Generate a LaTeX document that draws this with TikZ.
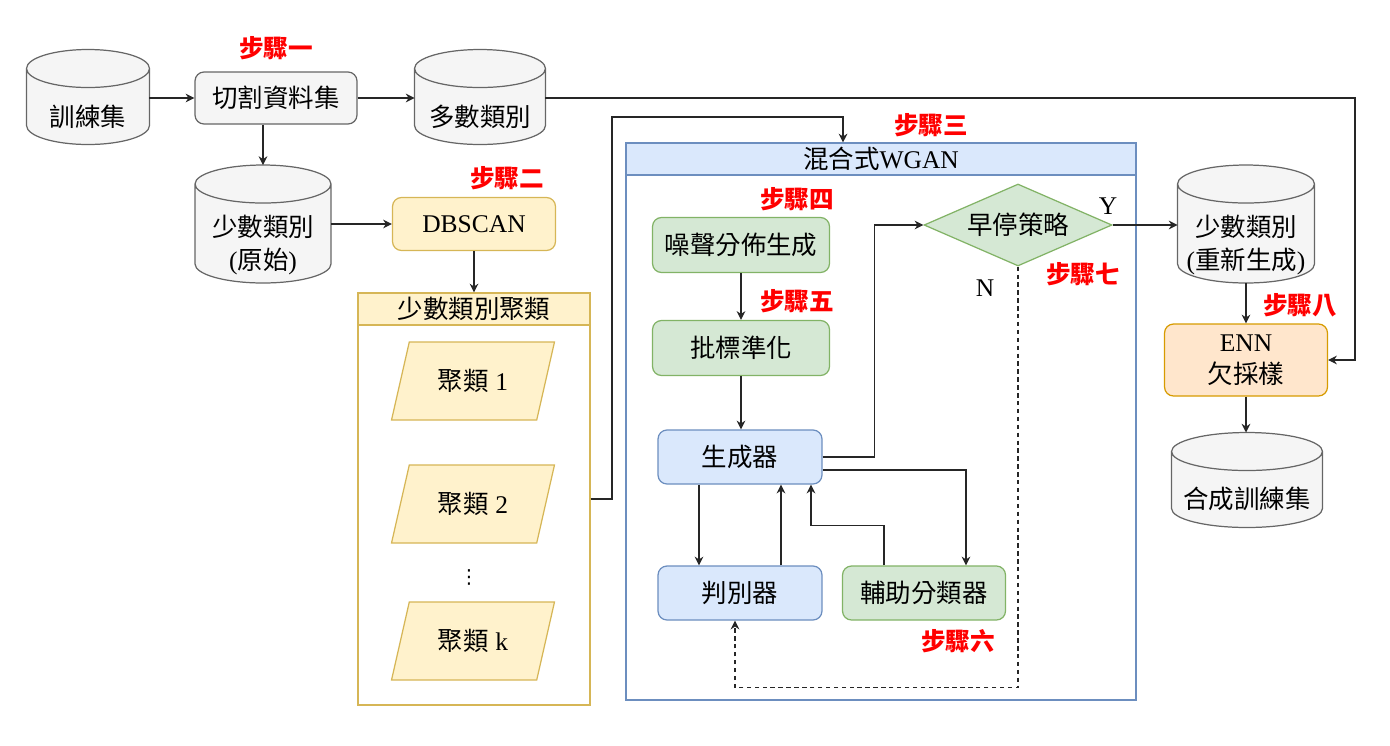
\documentclass[tikz,border=0pt]{standalone}
\usepackage{fontspec}
\setmainfont{Liberation Serif}
\newfontfamily\cjk{Noto Sans CJK TC}
\newfontfamily\dejavu{DejaVu Sans}
\usetikzlibrary{arrows.meta,shapes.geometric,positioning,calc}
\newcommand{\zh}[1]{{\cjk #1}}
\newlength{\capr}
\setlength{\capr}{0.38cm}
% cylinder outline around a named node
\newcommand{\drawcyl}[1]{%
  \draw[draw=graydraw, fill=grayfill, line width=0.7pt]
    let \p1=(#1.north west), \p2=(#1.south east), \n1={(\x2-\x1)/2} in
    (\x1,\y1-\capr) -- (\x1,\y2+\capr)
    arc[start angle=180, end angle=360, x radius=\n1, y radius=\capr]
    -- (\x2,\y1-\capr)
    arc[start angle=0, end angle=180, x radius=\n1, y radius=\capr] -- cycle
    (\x1,\y1-\capr) arc[start angle=180, end angle=360, x radius=\n1, y radius=\capr];}
\definecolor{grayfill}{HTML}{F5F5F5}
\definecolor{graydraw}{HTML}{666666}
\definecolor{yelfill}{HTML}{FFF2CC}
\definecolor{yeldraw}{HTML}{D6B656}
\definecolor{bluefill}{HTML}{DAE8FC}
\definecolor{bluedraw}{HTML}{6C8EBF}
\definecolor{grnfill}{HTML}{D5E8D4}
\definecolor{grndraw}{HTML}{82B366}
\definecolor{orgfill}{HTML}{FFE6CC}
\definecolor{orgdraw}{HTML}{D79B00}
\tikzset{
  box/.style={draw=#1draw, fill=#1fill, rounded corners=0.18cm, line width=0.7pt,
    minimum width=3.26cm, minimum height=1.08cm, align=center},
  store/.style={rectangle, inner sep=0pt, outer sep=0pt},
  storetext/.style={align=center, font=\fontsize{14.5pt}{19pt}\selectfont},
  panel/.style={draw=#1draw, fill=white, line width=0.7pt},
  panelhead/.style={draw=#1draw, fill=#1fill, line width=0.7pt, minimum height=0.64cm, inner sep=0pt},
  clusbox/.style={trapezium, trapezium left angle=72, trapezium right angle=108,
    trapezium stretches=true, draw=yeldraw, fill=yelfill, line width=0.7pt,
    minimum width=3.26cm, minimum height=1.56cm},
  decide/.style={diamond, aspect=2.3, draw=grndraw, fill=grnfill, line width=0.7pt,
    minimum width=3.76cm, minimum height=1.64cm, inner sep=0pt},
  steplabel/.style={text=red, font=\fontsize{14pt}{17pt}\selectfont\cjk\bfseries},
  arr/.style={-{Stealth[length=5pt,width=5pt]}, line width=0.7pt, draw=black!85}
}
\begin{document}
\begin{tikzpicture}[x=0.02cm, y=-0.02cm, font=\fontsize{14.5pt}{18.5pt}\selectfont]
\useasboundingbox (0,0) rectangle (1390,745);

% step 1: split the data
\node[store, minimum width=2.46cm, minimum height=1.9cm] (train) at (88,97) {};
\drawcyl{train}
\node[storetext] (train-t) at ([yshift=-0.4cm]train.center) {\zh{訓練集}};
\node[box=gray, minimum width=3.24cm, minimum height=1.04cm] (split) at (276,98) {\zh{切割資料集}};
\node[store, minimum width=2.62cm, minimum height=1.9cm] (major) at (480,97) {};
\drawcyl{major}
\node[storetext] (major-t) at ([yshift=-0.4cm]major.center) {\zh{多數類別}};
\node[store, minimum width=2.72cm, minimum height=2.36cm] (minorig) at (263,224) {};
\drawcyl{minorig}
\node[storetext] (minorig-t) at ([yshift=-0.42cm]minorig.center) {\zh{少數類別}\\(\zh{原始})};
\node[steplabel] (s1) at (276,48) {步驟一};

% step 2: clustering
\node[box=yel, minimum height=1.06cm] (dbscan) at (474,224) {DBSCAN};
\node[steplabel] (s2) at (507,178) {步驟二};
\node[panel=yel, minimum width=4.64cm, minimum height=8.24cm] (clus) at (474,499) {};
\node[panelhead=yel, minimum width=4.64cm, anchor=north] (clushead) at (clus.north) {\zh{少數類別聚類}};
\node[clusbox] (c1) at (473,381) {\zh{聚類} 1};
\node[clusbox] (c2) at (473,504) {\zh{聚類} 2};
\node[font=\dejavu\fontsize{11pt}{12pt}\selectfont] (cdots) at (469,577) {⋮};
\node[clusbox] (ck) at (473,641) {\zh{聚類} k};

% step 3-7: hybrid WGAN
\node[panel=blue, minimum width=10.2cm, minimum height=11.14cm] (wgan) at (881,421.5) {};
\node[panelhead=blue, minimum width=10.2cm, anchor=north] (wganhead) at (wgan.north) {\zh{混合式}WGAN};
\node[steplabel] (s3) at (931,125) {步驟三};
\node[box=grn, minimum width=3.54cm, minimum height=1.1cm] (noise) at (741,245) {\zh{噪聲分佈生成}};
\node[steplabel] (s4) at (797,199) {步驟四};
\node[box=grn, minimum width=3.54cm, minimum height=1.1cm] (bn) at (741,348) {\zh{批標準化}};
\node[steplabel] (s5) at (797,301) {步驟五};
\node[box=blue, minimum width=3.28cm] (gen) at (740,457) {\zh{生成器}};
\node[box=blue, minimum width=3.28cm] (disc) at (740,593) {\zh{判別器}};
\node[box=grn] (aux) at (924,593) {\zh{輔助分類器}};
\node[steplabel] (s6) at (958,641) {步驟六};
\node[decide] (stop) at (1018,225) {\zh{早停策略}};
\node[steplabel] (s7) at (1083,274) {步驟七};
\node (yes) at (1108,206) {Y};
\node (no) at (985,288) {N};

% step 8: undersampling
\node[store, minimum width=2.74cm, minimum height=2.36cm] (minnew) at (1246,224) {};
\drawcyl{minnew}
\node[storetext] (minnew-t) at ([yshift=-0.42cm]minnew.center) {\zh{少數類別}\\(\zh{重新生成})};
\node[box=org, minimum height=1.44cm] (enn) at (1246,360) {ENN\\\zh{欠採樣}};
\node[steplabel] (s8) at (1300,305) {步驟八};
\node[store, minimum width=3.02cm, minimum height=1.9cm] (syn) at (1247,480) {};
\drawcyl{syn}
\node[storetext] (syn-t) at ([yshift=-0.38cm]syn.center) {\zh{合成訓練集}};

% connectors
\coordinate (rtop) at (1355,98);
\coordinate (bend1) at (612,117);
\draw[arr] (train.east |- split.west) -- (split.west);
\draw[arr] (split.east) -- (major.west |- split.east);
\draw[arr] (major.east |- split.east) -- (rtop) |- (enn.east);
\draw[arr] (split.south -| minorig.north) -- (minorig.north);
\draw[arr] (minorig.east |- dbscan.west) -- (dbscan.west);
\draw[arr] (dbscan.south) -- (clushead.north);
\draw[arr] (clus.east) -| (bend1) -| ([xshift=-0.76cm]wganhead.north);
\draw[arr] (noise) -- (bn);
\draw[arr] (bn.south) -- (bn.south |- gen.north);
\draw[arr] (gen.east) -- ++(52,0) |- (stop.west);
\draw[arr] ([yshift=-0.26cm]gen.east) -| ([xshift=0.84cm]aux.north);
\draw[arr] ([xshift=-0.8cm]aux.north) -- ++(0,-40) -| ([xshift=1.42cm]gen.south);
\draw[arr] ([xshift=-0.82cm]gen.south) -- ([xshift=-0.82cm]disc.north);
\draw[arr] ([xshift=0.82cm]disc.north) -- ([xshift=0.82cm]gen.south);
\draw[arr, dash pattern=on 2.5pt off 2pt] (stop.south) -- ++(0,421) -| ([xshift=-0.1cm]disc.south);
\draw[arr] (stop.east) -- (minnew.west |- stop.east);
\draw[arr] (minnew.south) -- (enn.north);
\draw[arr] (enn.south) -- (enn.south |- syn.north);
\end{tikzpicture}
\end{document}
